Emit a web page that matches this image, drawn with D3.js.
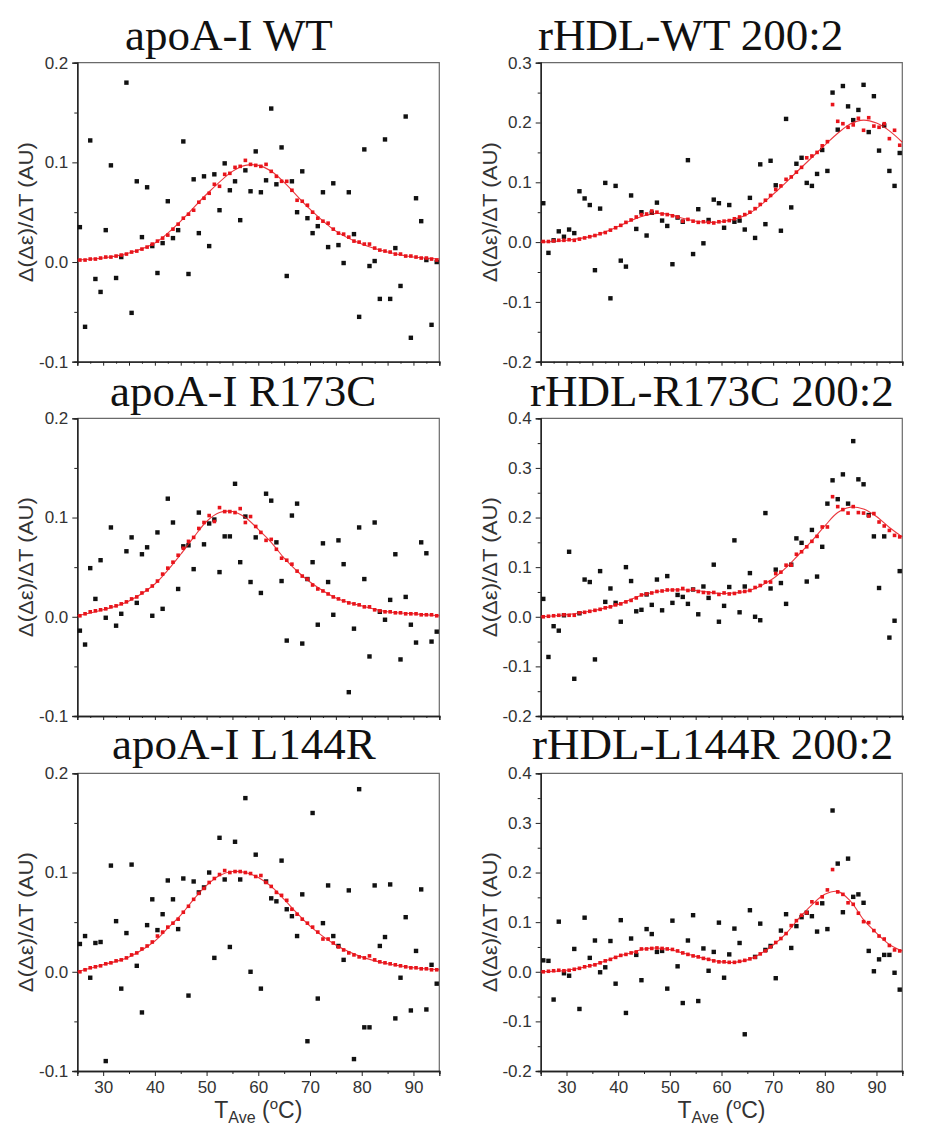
<!DOCTYPE html>
<html>
<head>
<meta charset="utf-8">
<script src="https://cdn.jsdelivr.net/npm/d3@7"></script>
<style>
  body { margin: 0; background: #fff; }
  svg { display: block; }
</style>
</head>
<body>
<svg id="chart" width="925" height="1130"></svg>
<script>
// Average temperature of each derivative point (°C)
const temps = [25.5, 26.5, 27.5, 28.5, 29.5, 30.5, 31.5, 32.5, 33.5, 34.5,
  35.5, 36.5, 37.5, 38.5, 39.5, 40.5, 41.5, 42.5, 43.5, 44.5,
  45.5, 46.5, 47.5, 48.5, 49.5, 50.5, 51.5, 52.5, 53.5, 54.5,
  55.5, 56.5, 57.5, 58.5, 59.5, 60.5, 61.5, 62.5, 63.5, 64.5,
  65.5, 66.5, 67.5, 68.5, 69.5, 70.5, 71.5, 72.5, 73.5, 74.5,
  75.5, 76.5, 77.5, 78.5, 79.5, 80.5, 81.5, 82.5, 83.5, 84.5,
  85.5, 86.5, 87.5, 88.5, 89.5, 90.5, 91.5, 92.5, 93.5, 94.5];

// apoA-I WT
const apoWtRaw = [0.035, -0.065, 0.122, -0.017, -0.030, 0.032, 0.097, -0.016, 0.005, 0.180,
  -0.051, 0.081, 0.025, 0.075, 0.016, -0.011, 0.019, 0.061, 0.024, 0.032,
  0.121, -0.012, 0.083, 0.029, 0.086, 0.016, 0.088, 0.052, 0.099, 0.072,
  0.081, 0.042, 0.092, 0.071, 0.111, 0.070, 0.082, 0.154, 0.078, 0.115,
  -0.014, 0.081, 0.050, 0.091, 0.044, 0.029, 0.036, 0.070, 0.015, 0.079,
  0.017, -0.001, 0.070, 0.028, -0.055, 0.113, -0.004, 0.001, -0.037, 0.123,
  -0.037, 0.014, -0.024, 0.146, -0.076, 0.064, 0.041, 0.002, -0.063, 0.000];
const apoWtSmooth = [0.002, 0.002, 0.003, 0.003, 0.004, 0.005, 0.005, 0.006, 0.007, 0.008,
  0.010, 0.011, 0.013, 0.015, 0.018, 0.021, 0.024, 0.027, 0.033, 0.038,
  0.044, 0.048, 0.052, 0.060, 0.064, 0.069, 0.078, 0.076, 0.088, 0.089,
  0.095, 0.096, 0.102, 0.098, 0.097, 0.096, 0.098, 0.091, 0.086, 0.081,
  0.081, 0.072, 0.062, 0.061, 0.057, 0.050, 0.044, 0.041, 0.039, 0.033,
  0.029, 0.028, 0.025, 0.021, 0.020, 0.018, 0.018, 0.014, 0.012, 0.011,
  0.010, 0.008, 0.008, 0.006, 0.006, 0.005, 0.004, 0.004, 0.003, 0.002];
const apoWtFitT = [25, 30, 35, 40, 45, 50, 55, 57.5, 60, 62.5, 65, 70, 75, 80, 85, 90, 95];
const apoWtFit = [0.002, 0.004, 0.009, 0.019, 0.041, 0.068, 0.091, 0.097, 0.097, 0.091, 0.080, 0.053, 0.031, 0.018, 0.010, 0.005, 0.003];

// rHDL-WT 200:2
const hdlWtRaw = [0.065, -0.018, 0.003, 0.018, 0.009, 0.021, 0.015, 0.085, 0.073, 0.062,
  -0.047, 0.056, 0.099, -0.094, 0.094, -0.031, -0.041, 0.078, 0.022, 0.050,
  0.011, 0.049, 0.066, 0.036, 0.027, -0.037, 0.041, 0.034, 0.137, -0.020,
  0.055, -0.002, 0.037, 0.071, 0.065, 0.024, 0.062, 0.034, 0.036, 0.021,
  0.074, 0.007, 0.130, 0.030, 0.136, 0.095, 0.019, 0.206, 0.058, 0.131,
  0.141, 0.099, 0.094, 0.114, 0.154, 0.119, 0.250, 0.188, 0.261, 0.227,
  0.204, 0.221, 0.263, 0.184, 0.244, 0.153, 0.195, 0.119, 0.094, 0.149];
const hdlWtSmooth = [0.001, 0.001, 0.002, 0.003, 0.003, 0.004, 0.003, 0.005, 0.007, 0.009,
  0.011, 0.014, 0.016, 0.020, 0.024, 0.028, 0.033, 0.037, 0.042, 0.046,
  0.047, 0.052, 0.050, 0.047, 0.046, 0.044, 0.042, 0.035, 0.038, 0.035,
  0.033, 0.034, 0.033, 0.032, 0.034, 0.035, 0.036, 0.039, 0.042, 0.046,
  0.050, 0.056, 0.063, 0.070, 0.078, 0.088, 0.094, 0.105, 0.109, 0.117,
  0.125, 0.141, 0.144, 0.150, 0.161, 0.168, 0.230, 0.202, 0.198, 0.192,
  0.196, 0.207, 0.187, 0.208, 0.194, 0.192, 0.198, 0.173, 0.187, 0.162];
const hdlWtFitT = [25, 30, 35, 40, 42.5, 45, 47.5, 50, 52.5, 55, 57.5, 60, 65, 70, 75, 80, 82.5, 85, 87.5, 90, 92.5, 95];
const hdlWtFit = [0.000, 0.003, 0.010, 0.026, 0.036, 0.044, 0.048, 0.046, 0.040, 0.035, 0.033, 0.034, 0.046, 0.080, 0.121, 0.162, 0.182, 0.198, 0.204, 0.199, 0.186, 0.167];

// apoA-I R173C
const apoRcRaw = [-0.014, -0.028, 0.049, 0.018, 0.057, -0.001, 0.090, -0.009, 0.003, 0.066,
  0.080, 0.014, 0.063, 0.070, 0.001, 0.085, 0.008, 0.119, 0.095, 0.028,
  0.071, 0.072, 0.048, 0.105, 0.073, 0.094, 0.098, 0.045, 0.081, 0.081,
  0.134, 0.055, 0.101, 0.035, 0.080, 0.024, 0.124, 0.117, 0.075, 0.036,
  -0.024, 0.102, 0.114, -0.027, 0.038, 0.055, -0.008, 0.074, 0.035, 0.002,
  0.077, 0.053, -0.076, -0.012, 0.090, 0.038, -0.040, 0.095, 0.005, -0.003,
  0.017, 0.063, -0.043, 0.020, -0.008, -0.026, 0.075, 0.064, -0.025, -0.015];
const apoRcSmooth = [0.001, 0.003, 0.005, 0.006, 0.007, 0.008, 0.010, 0.011, 0.013, 0.015,
  0.018, 0.020, 0.024, 0.027, 0.031, 0.036, 0.043, 0.049, 0.055, 0.062,
  0.069, 0.076, 0.080, 0.089, 0.095, 0.102, 0.096, 0.110, 0.106, 0.106,
  0.105, 0.109, 0.095, 0.101, 0.091, 0.085, 0.077, 0.078, 0.068, 0.059,
  0.057, 0.053, 0.046, 0.041, 0.038, 0.032, 0.028, 0.026, 0.023, 0.020,
  0.018, 0.016, 0.014, 0.013, 0.012, 0.010, 0.010, 0.007, 0.006, 0.005,
  0.005, 0.004, 0.004, 0.003, 0.003, 0.003, 0.002, 0.002, 0.002, 0.001];
const apoRcFitT = [25, 30, 35, 40, 42.5, 45, 47.5, 50, 52.5, 55, 57.5, 60, 62.5, 65, 67.5, 70, 75, 80, 85, 90, 95];
const apoRcFit = [0.001, 0.007, 0.016, 0.033, 0.047, 0.063, 0.080, 0.096, 0.105, 0.106, 0.100, 0.088, 0.075, 0.059, 0.046, 0.035, 0.019, 0.011, 0.005, 0.003, 0.001];

// rHDL-R173C 200:2
const hdlRcRaw = [0.036, -0.081, -0.019, -0.028, 0.003, 0.131, -0.125, 0.007, 0.075, 0.070,
  -0.086, 0.092, 0.030, 0.057, 0.028, -0.010, 0.100, 0.072, 0.011, 0.014,
  0.045, 0.024, 0.075, 0.013, 0.082, 0.028, 0.044, 0.040, 0.026, 0.055,
  0.005, 0.061, 0.038, 0.105, -0.010, 0.022, 0.060, 0.154, 0.009, 0.061,
  0.088, 0.000, -0.007, 0.209, 0.057, 0.095, 0.068, 0.026, 0.105, 0.158,
  0.149, 0.071, 0.175, 0.081, 0.141, 0.228, 0.275, 0.237, 0.287, 0.228,
  0.354, 0.277, 0.267, 0.205, 0.162, 0.058, 0.162, -0.042, -0.008, 0.092];
const hdlRcSmooth = [0.000, 0.001, 0.002, 0.003, 0.004, 0.003, 0.003, 0.008, 0.009, 0.011,
  0.013, 0.015, 0.018, 0.020, 0.024, 0.026, 0.030, 0.033, 0.038, 0.044,
  0.046, 0.048, 0.051, 0.052, 0.054, 0.054, 0.054, 0.057, 0.053, 0.055,
  0.051, 0.049, 0.048, 0.049, 0.045, 0.048, 0.046, 0.047, 0.050, 0.051,
  0.053, 0.059, 0.063, 0.070, 0.070, 0.087, 0.090, 0.104, 0.104, 0.126,
  0.131, 0.141, 0.152, 0.162, 0.181, 0.181, 0.242, 0.222, 0.216, 0.209,
  0.222, 0.210, 0.209, 0.203, 0.208, 0.191, 0.183, 0.174, 0.164, 0.161];
const hdlRcFitT = [25, 30, 35, 40, 45, 50, 55, 60, 65, 67.5, 70, 72.5, 75, 77.5, 80, 82.5, 85, 87.5, 90, 92.5, 95];
const hdlRcFit = [0.000, 0.004, 0.012, 0.025, 0.045, 0.054, 0.053, 0.047, 0.052, 0.062, 0.077, 0.099, 0.126, 0.153, 0.183, 0.210, 0.221, 0.217, 0.202, 0.180, 0.161];

// apoA-I L144R
const apoLrRaw = [0.028, 0.036, -0.006, 0.029, 0.030, -0.090, 0.107, 0.051, -0.017, 0.039,
  0.108, 0.006, -0.041, 0.047, 0.073, 0.042, 0.058, 0.092, 0.073, 0.043,
  0.094, -0.024, 0.091, 0.080, 0.085, 0.100, 0.014, 0.135, 0.093, 0.025,
  0.131, 0.093, 0.175, 0.000, 0.118, -0.017, 0.091, 0.074, 0.071, 0.112,
  0.063, 0.056, 0.036, 0.078, -0.070, 0.160, -0.027, 0.049, 0.087, 0.036,
  0.026, 0.012, 0.082, -0.088, 0.184, -0.056, -0.056, 0.087, 0.026, 0.035,
  0.088, -0.047, -0.006, 0.055, -0.039, 0.021, 0.083, -0.038, 0.007, -0.012];
const apoLrSmooth = [0.000, 0.002, 0.004, 0.005, 0.006, 0.008, 0.009, 0.011, 0.012, 0.014,
  0.017, 0.019, 0.023, 0.026, 0.030, 0.036, 0.040, 0.045, 0.049, 0.053,
  0.060, 0.066, 0.073, 0.079, 0.084, 0.090, 0.094, 0.098, 0.102, 0.100,
  0.101, 0.101, 0.100, 0.099, 0.096, 0.097, 0.090, 0.086, 0.080, 0.077,
  0.072, 0.063, 0.058, 0.053, 0.049, 0.045, 0.040, 0.033, 0.033, 0.029,
  0.025, 0.022, 0.019, 0.017, 0.015, 0.014, 0.016, 0.012, 0.010, 0.009,
  0.008, 0.007, 0.006, 0.005, 0.004, 0.004, 0.003, 0.003, 0.002, 0.002];
const apoLrFitT = [25, 30, 35, 40, 42.5, 45, 47.5, 50, 52.5, 55, 57.5, 60, 62.5, 65, 67.5, 70, 75, 80, 85, 90, 95];
const apoLrFit = [0.000, 0.007, 0.015, 0.031, 0.044, 0.057, 0.073, 0.087, 0.097, 0.101, 0.100, 0.095, 0.086, 0.073, 0.059, 0.046, 0.027, 0.015, 0.008, 0.004, 0.002];

// rHDL-L144R 200:2
const hdlLrRaw = [0.023, 0.022, -0.056, 0.101, -0.003, -0.008, 0.046, -0.075, 0.109, 0.028,
  0.063, -0.001, 0.009, 0.062, -0.024, 0.104, -0.083, 0.067, 0.034, -0.017,
  0.086, 0.076, 0.040, 0.042, -0.034, 0.103, 0.011, -0.063, 0.063, 0.114,
  -0.059, 0.047, 0.002, 0.040, 0.099, -0.012, 0.035, 0.087, 0.058, -0.126,
  0.124, 0.030, 0.097, 0.044, 0.052, -0.013, 0.083, 0.116, 0.048, 0.092,
  0.110, 0.119, 0.112, 0.081, 0.138, 0.086, 0.325, 0.218, 0.120, 0.228,
  0.151, 0.156, 0.139, 0.042, 0.001, 0.025, 0.034, 0.034, -0.002, -0.036];
const hdlLrSmooth = [0.000, 0.001, 0.002, 0.003, 0.002, 0.003, 0.005, 0.007, 0.010, 0.012,
  0.014, 0.018, 0.022, 0.025, 0.029, 0.033, 0.035, 0.038, 0.040, 0.046,
  0.046, 0.047, 0.048, 0.047, 0.046, 0.045, 0.042, 0.038, 0.035, 0.032,
  0.030, 0.027, 0.025, 0.022, 0.020, 0.020, 0.019, 0.019, 0.021, 0.023,
  0.026, 0.029, 0.036, 0.042, 0.050, 0.059, 0.067, 0.077, 0.093, 0.103,
  0.114, 0.119, 0.141, 0.138, 0.151, 0.165, 0.206, 0.161, 0.156, 0.139,
  0.136, 0.118, 0.101, 0.099, 0.083, 0.072, 0.066, 0.053, 0.044, 0.042];
const hdlLrFitT = [25, 30, 35, 40, 42.5, 45, 47.5, 50, 52.5, 55, 57.5, 60, 62.5, 65, 67.5, 70, 72.5, 75, 77.5, 80, 82.5, 85, 87.5, 90, 92.5, 95];
const hdlLrFit = [0.000, 0.003, 0.013, 0.031, 0.038, 0.046, 0.048, 0.045, 0.038, 0.031, 0.025, 0.020, 0.019, 0.024, 0.036, 0.054, 0.077, 0.108, 0.135, 0.156, 0.162, 0.142, 0.105, 0.078, 0.055, 0.042];

// Axis ticks
const xMajorTicks = [30, 40, 50, 60, 70, 80, 90];
const yTicksApo = [-0.1, 0.0, 0.1, 0.2];
const yTicksHdlWt = [-0.2, -0.1, 0.0, 0.1, 0.2, 0.3];
const yTicksHdl = [-0.2, -0.1, 0.0, 0.1, 0.2, 0.3, 0.4];

const titles = ["apoA-I WT", "rHDL-WT 200:2", "apoA-I R173C", "rHDL-R173C 200:2", "apoA-I L144R", "rHDL-L144R 200:2"];

// ---------------- layout ----------------
const cols = [{x0: 77.3, x1: 439.3}, {x0: 540.7, x1: 902.3}];
const rows = [{y0: 62.7, y1: 361.7, tb: 50}, {y0: 418.3, y1: 716, tb: 406}, {y0: 773.3, y1: 1071, tb: 759}];
const titleX = [125, 538, 110, 530, 112, 532];

const panels = [
  {raw: apoWtRaw, smooth: apoWtSmooth, fitT: apoWtFitT, fit: apoWtFit, yTicks: yTicksApo, c: 0, r: 0},
  {raw: hdlWtRaw, smooth: hdlWtSmooth, fitT: hdlWtFitT, fit: hdlWtFit, yTicks: yTicksHdlWt, c: 1, r: 0},
  {raw: apoRcRaw, smooth: apoRcSmooth, fitT: apoRcFitT, fit: apoRcFit, yTicks: yTicksApo, c: 0, r: 1},
  {raw: hdlRcRaw, smooth: hdlRcSmooth, fitT: hdlRcFitT, fit: hdlRcFit, yTicks: yTicksHdl, c: 1, r: 1},
  {raw: apoLrRaw, smooth: apoLrSmooth, fitT: apoLrFitT, fit: apoLrFit, yTicks: yTicksApo, c: 0, r: 2},
  {raw: hdlLrRaw, smooth: hdlLrSmooth, fitT: hdlLrFitT, fit: hdlLrFit, yTicks: yTicksHdl, c: 1, r: 2}
];

const svg = d3.select("#chart");
svg.append("rect").attr("width", 925).attr("height", 1130).attr("fill", "#fff");

const sans = "'Liberation Sans', Arial, sans-serif";
const serif = "'Liberation Serif', 'Times New Roman', serif";
const axisColor = "#222";
const frameColor = "#6a6a6a";
const red = "#e8141b";

panels.forEach((p, k) => {
  const col = cols[p.c], row = rows[p.r];
  const isBottom = p.r === 2;
  const x = d3.scaleLinear().domain([25, 95]).range([col.x0, col.x1]);
  const yDom = d3.extent(p.yTicks);
  const y = d3.scaleLinear().domain(yDom).range([row.y1, row.y0]);

  const g = svg.append("g");

  // frame (top and right edges)
  g.append("path")
    .attr("d", `M${col.x0},${row.y0}H${col.x1}V${row.y1}`)
    .attr("fill", "none").attr("stroke", frameColor).attr("stroke-width", 1.2);

  // title
  g.append("text")
    .attr("x", titleX[k]).attr("y", row.tb)
    .attr("font-family", serif).attr("font-size", 45).attr("fill", "#111")
    .text(titles[k]);

  // y axis: major + minor ticks
  const yMinor = [];
  for (let i = 0; i < p.yTicks.length - 1; i++) yMinor.push((p.yTicks[i] + p.yTicks[i + 1]) / 2);
  const yAxisMinor = g.append("g").attr("transform", `translate(${col.x0},0)`)
    .call(d3.axisLeft(y).tickValues(yMinor).tickSize(3).tickFormat(""));
  const yAxis = g.append("g").attr("transform", `translate(${col.x0},0)`)
    .call(d3.axisLeft(y).tickValues(p.yTicks).tickSize(5).tickPadding(4).tickFormat(d3.format(".1f")));
  [yAxis, yAxisMinor].forEach(a => {
    a.select(".domain").attr("stroke", axisColor).attr("stroke-width", 1.3);
    a.selectAll(".tick line").attr("stroke", axisColor).attr("stroke-width", 1);
    a.selectAll("text").attr("font-family", sans).attr("font-size", 17).attr("fill", "#333");
  });
  yAxis.selectAll("text").text(d => d3.format(".1f")(d).replace("−", "-"));

  // x axis
  let xMaj, xMin;
  if (isBottom) {
    xMaj = xMajorTicks;
    xMin = [25, 35, 45, 55, 65, 75, 85, 95];
  } else {
    xMaj = [25, 30, 35, 40, 45, 50, 55, 60, 65, 70, 75, 80, 85, 90, 95];
    xMin = [27.5, 32.5, 37.5, 42.5, 47.5, 52.5, 57.5, 62.5, 67.5, 72.5, 77.5, 82.5, 87.5, 92.5];
  }
  const xAxisMinor = g.append("g").attr("transform", `translate(0,${row.y1})`)
    .call(d3.axisBottom(x).tickValues(xMin).tickSize(isBottom ? 3 : 2).tickFormat(""));
  const xAxis = g.append("g").attr("transform", `translate(0,${row.y1})`)
    .call(d3.axisBottom(x).tickValues(xMaj).tickSize(isBottom ? 5 : 4).tickPadding(5)
      .tickFormat(isBottom ? d3.format("d") : ""));
  [xAxis, xAxisMinor].forEach(a => {
    a.select(".domain").attr("stroke", axisColor).attr("stroke-width", 1.3);
    a.selectAll(".tick line").attr("stroke", axisColor).attr("stroke-width", 1);
    a.selectAll("text").attr("font-family", sans).attr("font-size", 17).attr("fill", "#333");
  });

  // y axis label
  const cy = (row.y0 + row.y1) / 2;
  g.append("text")
    .attr("transform", `translate(${col.x0 - 44},${cy}) rotate(-90)`)
    .attr("text-anchor", "middle")
    .attr("font-family", sans).attr("font-size", 21).attr("fill", "#333")
    .attr("textLength", 140).attr("lengthAdjust", "spacingAndGlyphs")
    .text("Δ(Δε)/ΔT (AU)");

  // x axis title on bottom row
  if (isBottom) {
    const t = g.append("text")
      .attr("x", (col.x0 + col.x1) / 2).attr("y", 1118)
      .attr("text-anchor", "middle")
      .attr("font-family", sans).attr("font-size", 23).attr("fill", "#333");
    t.append("tspan").text("T");
    t.append("tspan").attr("font-size", 16).attr("dy", 5).text("Ave");
    t.append("tspan").attr("dy", -5).text(" (");
    t.append("tspan").attr("font-size", 15).attr("dy", -9).text("o");
    t.append("tspan").attr("dy", 9).text("C)");
  }

  // raw derivative points
  const sq = 4.4;
  g.append("g").selectAll("rect").data(p.raw).join("rect")
    .attr("x", (d, i) => x(temps[i]) - sq / 2)
    .attr("y", d => y(d) - sq / 2)
    .attr("width", sq).attr("height", sq)
    .attr("fill", "#111");

  // fitted curve
  const line = d3.line().x(d => x(d[0])).y(d => y(d[1])).curve(d3.curveCatmullRom.alpha(0.5));
  g.append("path")
    .datum(p.fitT.map((t, i) => [t, p.fit[i]]))
    .attr("d", line)
    .attr("fill", "none").attr("stroke", red).attr("stroke-width", 1.1).attr("opacity", 0.85);

  // smoothed points
  const rs = 3.6;
  g.append("g").selectAll("rect").data(p.smooth).join("rect")
    .attr("x", (d, i) => x(temps[i]) - rs / 2)
    .attr("y", d => y(d) - rs / 2)
    .attr("width", rs).attr("height", rs)
    .attr("fill", red);
});
</script>
</body>
</html>
